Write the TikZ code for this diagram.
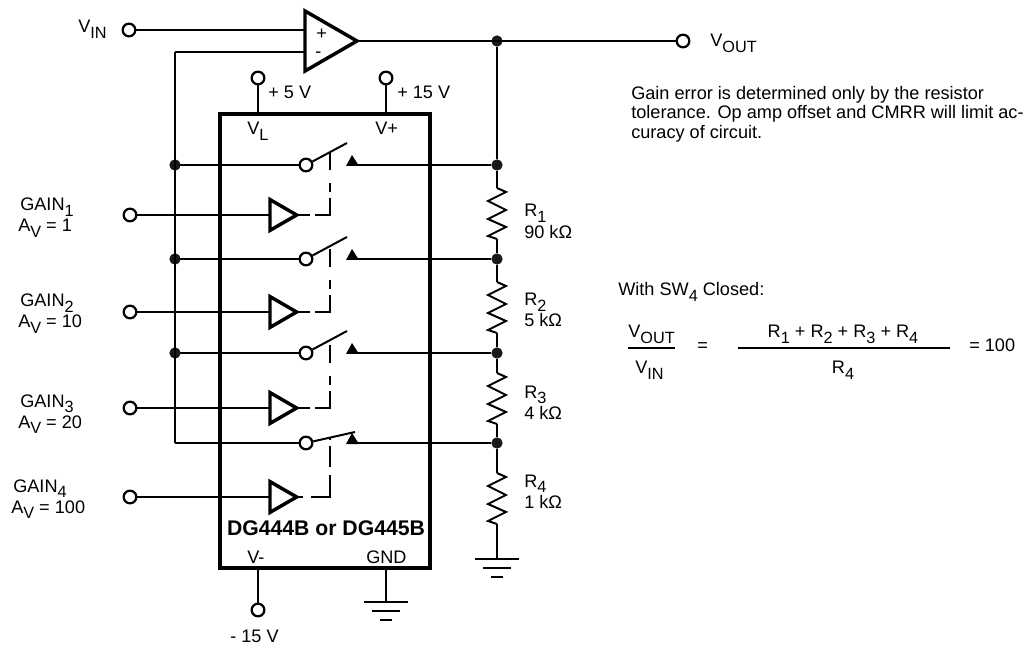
\documentclass[tikz,border=0pt]{standalone}
\usepackage{fontspec}
\setmainfont{Liberation Sans}
\usetikzlibrary{shapes.geometric}

\tikzset{
    wire/.style={line width=1.5pt, line join=miter},
    heavy/.style={line width=2.6pt, line join=miter},
    term/.style={circle, draw, line width=1.7pt, fill=white, minimum size=9.5pt, inner sep=0pt},
    dot/.style={circle, fill=black!90, minimum size=8.5pt, inner sep=0pt},
    amp/.style={isosceles triangle, isosceles triangle apex angle=60, draw, heavy, inner sep=0pt, outer sep=0pt, anchor=lower side},
    txt/.style={anchor=base west, inner sep=0pt, font=\fontsize{13.6}{15}\selectfont},
    dashone/.style={wire, dash pattern=on 10pt off 4pt on 24pt off 4pt on 7pt off 10pt on 13pt},
    dashfour/.style={wire, dash pattern=on 4.5pt off 6pt on 31pt off 6pt on 16pt},
    res/.pic={\draw[wire] (0,0) -- (9,4) -- (-9,13) -- (9,22) -- (-9,31) -- (9,39) -- (-9,48) -- (0,51);},
    earth/.pic={
        \draw[wire] (-22,0) -- (22,0);
        \draw[wire] (-14,9) -- (14,9);
        \draw[wire] (-6,18) -- (6,18);
    }
}
\newcommand{\subtxt}[1]{\raisebox{-0.55ex}[0pt][0pt]{\fontsize{12.2}{13}\selectfont #1}}

\begin{document}
\begin{tikzpicture}[x=0.75pt, y=-0.75pt]
    \useasboundingbox (0,0) rectangle (1036,645);

    % op amp and output line
    \node[amp, minimum height=39pt] (opamp) at (305,41) {};
    \coordinate (ampplus) at (305,30);
    \coordinate (ampminus) at (305,52);
    \coordinate (buscorner) at (175,52);
    \node[term] (vin) at (129,30) {};
    \node[term] (vout) at (683,41) {};
    \node[dot] (jout) at (497,41) {};
    \draw[wire] (vin) -- (ampplus);
    \draw[wire] (opamp.apex) -- (vout);
    \draw[wire] (ampminus) -- (buscorner);
    \node[txt] (lplus) at (316,40) {+};
    \node[txt] (lminus) at (315,58) {-};

    % chip
    \draw[heavy] (220,114) rectangle (430,568);
    \node[term] (tfive) at (258,78) {};
    \node[term] (tfifteen) at (386,78) {};
    \node[term] (tneg) at (258,610) {};
    \coordinate (pinl) at (258,114);
    \coordinate (pinp) at (386,114);
    \coordinate (pinn) at (258,568);
    \coordinate (ping) at (386,568);
    \coordinate (gndchip) at (386,602);
    \coordinate (gndres) at (497,559);
    \draw[wire] (tfive) -- (pinl);
    \draw[wire] (tfifteen) -- (pinp);
    \draw[wire] (pinn) -- (tneg);
    \draw[wire] (ping) -- (gndchip);
    \pic at (gndchip) {earth};
    \pic at (gndres) {earth};

    % switches, one for each gain
    \foreach \n/\y/\b/\ex/\ey/\st/\ds in {1/165/215/347/143/152/dashone, 2/259/312/347/237/246/dashone, 3/353/408/347/331/340/dashone, 4/443/497/355/432/438/dashfour} {
        \node[dot] (jr\n) at (497,\y) {};
        \node[term] (sw\n) at (306,\y) {};
        \node[term] (gain\n) at (130,\b) {};
        \node[amp, minimum height=20pt] (buf\n) at (270,\b) {};
        \coordinate (tip\n) at (\ex,\ey);
        \coordinate (stem\n) at (330,\st);
        \coordinate (bend\n) at (330,\b);
        \coordinate (ct\n) at (352,\y);
        \coordinate (bus\n) at (175,\y);
        \draw[wire] (bus\n) -- (sw\n);
        \draw[wire] (sw\n) -- (tip\n);
        \draw[wire] (ct\n) -- (jr\n);
        \fill (346,\y+1) -- (352,\y-10) -- (359,\y+1) -- cycle;
        \draw[wire] (gain\n) -- (buf\n.lower side);
        \draw[\ds] (buf\n.apex) -- (bend\n) -- (stem\n);
    }
    \foreach \n in {1,2,3} {
        \node[dot] at (bus\n) {};
    }
    \draw[wire] (buscorner) -- (bus4);
    \draw[wire] (jout) -- (jr1);

    % resistors
    \foreach \n/\m/\t in {1/2/188, 2/3/282, 3/4/373} {
        \coordinate (ra\n) at (497,\t);
        \coordinate (rb\n) at (497,\t+51);
        \pic at (ra\n) {res};
        \draw[wire] (jr\n) -- (ra\n);
        \draw[wire] (rb\n) -- (jr\m);
    }
    \coordinate (ra4) at (497,473);
    \coordinate (rb4) at (497,524);
    \pic at (ra4) {res};
    \draw[wire] (jr4) -- (ra4);
    \draw[wire] (rb4) -- (gndres);

    % labels
    \node[txt] (lvin) at (78,33) {V\subtxt{IN}};
    \node[txt] (lvout) at (710,47) {V\subtxt{OUT}};
    \node[txt] (lfive) at (268,99) {+ 5 V};
    \node[txt] (lfifteen) at (397,99) {+ 15 V};
    \node[txt] (lvl) at (247,135) {V\subtxt{L}};
    \node[txt] (lvp) at (375,135) {V+};
    \node[txt] (lvn) at (247,563) {V-};
    \node[txt] (lgnd) at (366,563) {GND};
    \node[txt] (lneg) at (230,642) {- 15 V};
    \node[anchor=base, inner sep=0pt, font=\fontsize{15.9}{17}\selectfont\bfseries] (lchip) at (326,535) {DG444B or DG445B};

    \node[txt] (lg1) at (20,211) {GAIN\subtxt{1}};
    \node[txt] (la1) at (18,232) {A\subtxt{V} = 1};
    \node[txt] (lg2) at (20,307) {GAIN\subtxt{2}};
    \node[txt] (la2) at (18,328) {A\subtxt{V} = 10};
    \node[txt] (lg3) at (20,407) {GAIN\subtxt{3}};
    \node[txt] (la3) at (18,428) {A\subtxt{V} = 20};
    \node[txt] (lg4) at (13,492) {GAIN\subtxt{4}};
    \node[txt] (la4) at (11,513) {A\subtxt{V} = 100};

    \node[txt] (lr1) at (524,217) {R\subtxt{1}};
    \node[txt] (lk1) at (524,239) {90 kΩ};
    \node[txt] (lr2) at (524,306) {R\subtxt{2}};
    \node[txt] (lk2) at (524,327) {5 kΩ};
    \node[txt] (lr3) at (524,398) {R\subtxt{3}};
    \node[txt] (lk3) at (524,420) {4 kΩ};
    \node[txt] (lr4) at (524,487) {R\subtxt{4}};
    \node[txt] (lk4) at (524,508) {1 kΩ};

    % note and equation
    \node[txt] (note1) at (631,100) {Gain error is determined only by the resistor};
    \node[txt] (note2) at (631,119) {tolerance.  Op amp offset and CMRR will limit ac-};
    \node[txt] (note3) at (631,139) {curacy of circuit.};
    \node[txt] (lsw) at (618,296) {With SW\subtxt{4} Closed:};

    \node[txt] (lnum) at (628,338) {V\subtxt{OUT}};
    \node[txt] (lden) at (635,374) {V\subtxt{IN}};
    \node[txt] (leq) at (697,352) {=};
    \node[anchor=base, inner sep=0pt, font=\fontsize{13.6}{15}\selectfont] (lsum) at (843,338) {R\subtxt{1} + R\subtxt{2} + R\subtxt{3} + R\subtxt{4}};
    \node[anchor=base, inner sep=0pt, font=\fontsize{13.6}{15}\selectfont] (lr) at (843,374) {R\subtxt{4}};
    \node[txt] (lres) at (969,352) {= 100};
    \coordinate (fa) at (628,348);
    \coordinate (fb) at (675,348);
    \coordinate (fc) at (738,348);
    \coordinate (fd) at (950,348);
    \draw[wire] (fa) -- (fb);
    \draw[wire] (fc) -- (fd);
\end{tikzpicture}
\end{document}
